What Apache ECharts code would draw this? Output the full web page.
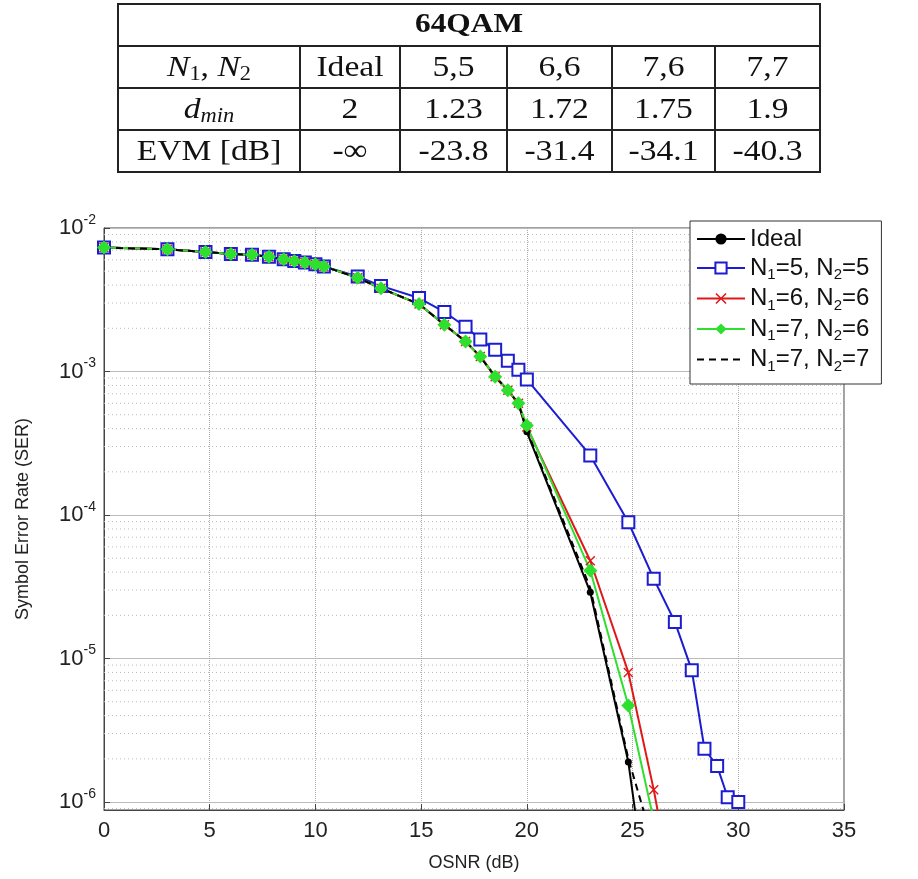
<!DOCTYPE html>
<html>
<head>
<meta charset="utf-8">
<script src="https://cdn.jsdelivr.net/npm/echarts@6/dist/echarts.min.js"></script>
<style>
  html, body { margin: 0; padding: 0; background: #fff; }
  #ser_chart { width: 918px; height: 879px; }
</style>
</head>
<body>
<div id="ser_chart"></div>
<script>
// OSNR grid shared by all curves (dB)
var osnrDb = [0, 3, 4.8, 6, 7, 7.8, 8.5, 9, 9.5, 10, 10.4, 12, 13.1, 14.9, 16.1, 17.1, 17.8, 18.5, 19.1, 19.6, 20, 23, 24.8, 26, 27, 27.8, 28.4, 29, 29.5, 30];

// SER values (null = no point)
var serIdeal = [7.3e-3, 7.1e-3, 6.8e-3, 6.6e-3, 6.5e-3, 6.3e-3, 6.05e-3, 5.9e-3, 5.75e-3, 5.6e-3, 5.4e-3, 4.5e-3, 3.8e-3, 2.95e-3, 2.12e-3, 1.62e-3, 1.27e-3, 9.2e-4, 7.4e-4, 6.0e-4, 3.8e-4, 2.9e-5, 1.9e-6, 1.0e-7];
var serN55 = [7.3e-3, 7.1e-3, 6.8e-3, 6.6e-3, 6.5e-3, 6.3e-3, 6.05e-3, 5.9e-3, 5.75e-3, 5.6e-3, 5.4e-3, 4.6e-3, 3.95e-3, 3.25e-3, 2.6e-3, 2.05e-3, 1.67e-3, 1.42e-3, 1.19e-3, 1.03e-3, 8.8e-4, 2.6e-4, 8.9e-5, 3.6e-5, 1.8e-5, 8.3e-6, 2.35e-6, 1.78e-6, 1.08e-6, 1.0e-6];
var serN66 = [7.3e-3, 7.1e-3, 6.8e-3, 6.6e-3, 6.5e-3, 6.3e-3, 6.05e-3, 5.9e-3, 5.75e-3, 5.6e-3, 5.4e-3, 4.5e-3, 3.8e-3, 2.95e-3, 2.12e-3, 1.62e-3, 1.27e-3, 9.2e-4, 7.4e-4, 6.0e-4, 4.1e-4, 4.8e-5, 8.0e-6, 1.22e-6, 2.0e-7];
var serN76 = [7.3e-3, 7.1e-3, 6.8e-3, 6.6e-3, 6.5e-3, 6.3e-3, 6.05e-3, 5.9e-3, 5.75e-3, 5.6e-3, 5.4e-3, 4.5e-3, 3.8e-3, 2.95e-3, 2.12e-3, 1.62e-3, 1.27e-3, 9.2e-4, 7.4e-4, 6.0e-4, 4.2e-4, 4.1e-5, 4.7e-6, 7.5e-7];
var serN77 = [7.3e-3, 7.1e-3, 6.8e-3, 6.6e-3, 6.5e-3, 6.3e-3, 6.05e-3, 5.9e-3, 5.75e-3, 5.6e-3, 5.4e-3, 4.5e-3, 3.8e-3, 2.95e-3, 2.12e-3, 1.62e-3, 1.27e-3, 9.2e-4, 7.4e-4, 6.0e-4, 3.9e-4, 3.1e-5, 2.0e-6, 5.0e-7];

var seriesNames = ['Ideal', 'N1=5, N2=5', 'N1=6, N2=6', 'N1=7, N2=6', 'N1=7, N2=7'];

// table at the top
var tableTitle = '64QAM';
var tableRowNames = ['{i|N}{s|1}{n|, }{i|N}{s|2}', '{i|d}{si|min}', 'EVM [dB]'];
var tableConfigs = ['Ideal', '5,5', '6,6', '7,6', '7,7'];
var tableDmin = ['2', '1.23', '1.72', '1.75', '1.9'];
var tableEvm = ['-\u221e', '-23.8', '-31.4', '-34.1', '-40.3'];

function pairs(ys) {
    var out = [];
    for (var i = 0; i < ys.length; i++) {
        if (ys[i] != null) out.push([osnrDb[i], ys[i]]);
    }
    return out;
}

var chart = echarts.init(document.getElementById('ser_chart'));

// minor log grid lines (2..9 in each decade)
var minorGrid = [];
for (var d = -7; d <= -3; d++) {
    for (var k = 2; k <= 9; k++) {
        minorGrid.push([k * Math.pow(10, d)]);
    }
}

// table drawing
var tLeft = 118, tRight = 820, tTop = 4, rowH = 42;
var colX = [118, 300, 400, 507, 612, 715, 820];
var serifFont = '"Liberation Serif", "DejaVu Serif", serif';
var tableGraphics = [];
tableGraphics.push({
    type: 'rect', shape: { x: tLeft, y: tTop, width: tRight - tLeft, height: rowH * 4 },
    style: { fill: '#fff', stroke: '#222', lineWidth: 2 }
});
for (var r = 1; r < 4; r++) {
    tableGraphics.push({
        type: 'line', shape: { x1: tLeft, y1: tTop + r * rowH, x2: tRight, y2: tTop + r * rowH },
        style: { stroke: '#222', lineWidth: 2 }
    });
}
for (var c = 1; c < colX.length - 1; c++) {
    tableGraphics.push({
        type: 'line', shape: { x1: colX[c], y1: tTop + rowH, x2: colX[c], y2: tTop + rowH * 4 },
        style: { stroke: '#222', lineWidth: 2 }
    });
}
function cellText(text, cx, cy, extra) {
    var st = {
        text: text, x: 0, y: 0, align: 'center', verticalAlign: 'middle',
        fontFamily: serifFont, fontSize: 30, fill: '#111',
        rich: {
            i: { fontFamily: serifFont, fontStyle: 'italic', fontSize: 30 },
            n: { fontFamily: serifFont, fontSize: 30 },
            s: { fontFamily: serifFont, fontSize: 20, padding: [14, 0, 0, 0] },
            si: { fontFamily: serifFont, fontStyle: 'italic', fontSize: 20, padding: [14, 0, 0, 0] }
        }
    };
    if (extra) for (var key in extra) st[key] = extra[key];
    tableGraphics.push({ type: 'text', x: cx, y: cy, scaleX: 1.12, style: st });
}
cellText(tableTitle, (tLeft + tRight) / 2, tTop + rowH / 2, { fontWeight: 'bold', fontSize: 28 });
var rowsValues = [tableConfigs, tableDmin, tableEvm];
for (var rr = 0; rr < 3; rr++) {
    var cy = tTop + rowH * (rr + 1) + rowH / 2 + 1;
    cellText(tableRowNames[rr], (colX[0] + colX[1]) / 2, cy);
    for (var cc = 0; cc < 5; cc++) {
        cellText(rowsValues[rr][cc], (colX[cc + 1] + colX[cc + 2]) / 2, cy);
    }
}

var sansFont = '"Liberation Sans", Arial, sans-serif';
var xMark = 'path://M0,1L1,0L5,4L9,0L10,1L6,5L10,9L9,10L5,6L1,10L0,9L4,5Z';

chart.setOption({
    animation: false,
    backgroundColor: '#fff',
    textStyle: { fontFamily: sansFont },
    graphic: tableGraphics,

    grid: {
        left: 104, top: 228, right: 74, bottom: 69,
        show: true, borderColor: '#444', borderWidth: 1, backgroundColor: '#fff'
    },

    legend: {
        data: [
            seriesNames[0], seriesNames[1], seriesNames[2], seriesNames[3],
            { name: seriesNames[4], itemStyle: { color: 'rgba(0,0,0,0)', borderWidth: 0 } }
        ],
        orient: 'vertical',
        left: 690, top: 221,
        padding: [5, 12, 10, 6],
        itemGap: 3,
        itemWidth: 48, itemHeight: 14,
        backgroundColor: '#fff',
        borderColor: '#333', borderWidth: 1,
        formatter: function (name) {
            return name.replace(/N(\d)/g, 'N{s|$1}');
        },
        textStyle: {
            fontFamily: sansFont, fontSize: 24, color: '#111', lineHeight: 26,
            rich: { s: { fontFamily: sansFont, fontSize: 15, padding: [14, 0, 0, 0] } }
        }
    },

    xAxis: {
        type: 'value', min: 0, max: 35, interval: 5,
        name: 'OSNR (dB)', nameLocation: 'middle', nameGap: 44,
        nameTextStyle: { fontSize: 18, color: '#222' },
        axisLine: { lineStyle: { color: '#444' } },
        axisTick: { inside: true, length: 6, lineStyle: { color: '#444' } },
        axisLabel: { fontSize: 22, color: '#222', margin: 10 },
        splitLine: { show: true, lineStyle: { color: '#aaa', type: 'dotted' } }
    },

    yAxis: {
        type: 'log', min: 8.8e-7, max: 1e-2,
        name: 'Symbol Error Rate (SER)', nameLocation: 'middle', nameGap: 72,
        nameTextStyle: { fontSize: 18, color: '#222' },
        axisLine: { show: true, lineStyle: { color: '#444' } },
        axisTick: { inside: true, length: 6, lineStyle: { color: '#444' } },
        axisLabel: {
            color: '#222', margin: 8,
            formatter: function (v) {
                var e = Math.round(Math.log10(v));
                if (Math.abs(Math.log10(v) - e) > 1e-6) return '';
                return '{b|10}{e|' + e + '}';
            },
            rich: {
                b: { fontSize: 22, color: '#222' },
                e: { fontSize: 14, color: '#222', padding: [0, 0, 16, 0] }
            }
        },
        splitLine: { show: true, lineStyle: { color: '#bbb' } }
    },

    series: [
        {
            // dotted minor grid lines placed through the log y scale
            type: 'custom', silent: true, z: 1, clip: true,
            data: minorGrid,
            renderItem: function (params, api) {
                var v = api.value(0);
                var p1 = api.coord([0, v]);
                var p2 = api.coord([35, v]);
                return {
                    type: 'line',
                    shape: { x1: p1[0], y1: p1[1], x2: p2[0], y2: p2[1] },
                    style: { stroke: '#bbb', lineWidth: 1, lineDash: [1, 3] }
                };
            },
            encode: { y: 0 }
        },
        {
            name: seriesNames[0], type: 'line', data: pairs(serIdeal),
            symbol: 'circle', symbolSize: 7,
            itemStyle: { color: '#000' },
            lineStyle: { color: '#000', width: 2 }
        },
        {
            name: seriesNames[1], type: 'line', data: pairs(serN55),
            symbol: 'rect', symbolSize: 12,
            itemStyle: { color: '#fff', borderColor: '#1c1cd0', borderWidth: 2 },
            lineStyle: { color: '#1c1cd0', width: 2 }
        },
        {
            name: seriesNames[2], type: 'line', data: pairs(serN66),
            symbol: xMark, symbolSize: 10,
            itemStyle: { color: '#e01818' },
            lineStyle: { color: '#e01818', width: 2 }
        },
        {
            name: seriesNames[3], type: 'line', data: pairs(serN76),
            symbol: 'diamond', symbolSize: 14,
            itemStyle: { color: '#2ee02e' },
            lineStyle: { color: '#2ee02e', width: 2 }
        },
        {
            name: seriesNames[4], type: 'line', data: pairs(serN77),
            symbol: 'none',
            itemStyle: { color: '#000' },
            lineStyle: { color: '#000', width: 2, type: [7, 5] }
        }
    ]
});
</script>
</body>
</html>
